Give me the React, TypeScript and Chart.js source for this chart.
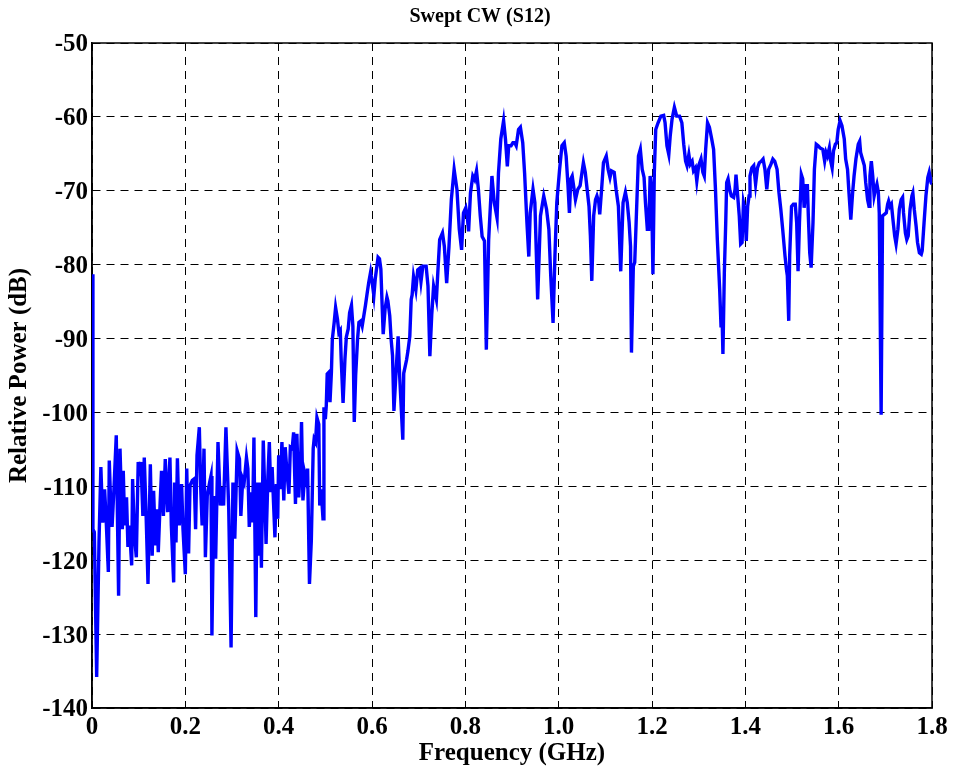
import React, { useEffect, useRef } from "react";
import { Chart, registerables } from "chart.js";

Chart.register(...registerables);

// ---- Data ----
const lowBandFreq = [
  0.000, 0.002, 0.005, 0.010, 0.015, 0.019, 0.023, 0.027, 0.030, 0.035, 0.037, 0.040, 0.043, 0.047, 0.052,
  0.057, 0.060, 0.065, 0.067, 0.070, 0.074, 0.077, 0.080, 0.085, 0.087, 0.091, 0.095, 0.099, 0.102, 0.105,
  0.109, 0.112, 0.116, 0.120, 0.125, 0.129, 0.132, 0.136, 0.139, 0.142, 0.146, 0.149, 0.153, 0.157, 0.162,
  0.167, 0.170, 0.175, 0.177, 0.180, 0.183, 0.187, 0.192, 0.195, 0.200, 0.203, 0.207, 0.210, 0.215, 0.219,
  0.222, 0.225, 0.230, 0.233, 0.236, 0.240, 0.243, 0.247, 0.252, 0.255, 0.257, 0.261, 0.265, 0.270, 0.275,
  0.279, 0.282, 0.287, 0.293, 0.298, 0.302, 0.306, 0.311, 0.316, 0.319, 0.323, 0.326,
];
const lowBandDb = [
  -81.3, -115.8, -116.2, -135.8, -117.6, -107.4, -114.9, -110.4, -114.0, -121.6, -106.5, -112.2, -115.5, -110.4, -103.1,
  -124.8, -104.9, -115.8, -107.9, -115.3, -111.5, -118.2, -115.3, -120.7, -109.0, -116.7, -119.6, -106.7, -108.6, -106.7,
  -114.0, -106.1, -114.0, -123.2, -107.0, -119.4, -110.6, -118.0, -113.1, -118.9, -112.2, -107.9, -114.0, -106.3, -113.5,
  -106.1, -115.3, -123.0, -109.5, -117.6, -106.2, -115.3, -109.7, -115.8, -121.9, -107.6, -119.1, -109.9, -109.2, -109.0,
  -115.8, -105.8, -102.0, -110.4, -115.3, -104.9, -119.6, -111.3, -109.5, -108.6, -130.2, -111.3, -119.8, -104.0, -112.6,
  -110.1, -112.6, -102.0, -113.1, -131.8, -109.5, -117.1, -105.2, -106.3, -114.0, -109.0, -109.5,
];

const midBandFreq = [
  0.331, 0.334, 0.337, 0.342, 0.344, 0.347, 0.351, 0.354, 0.357, 0.360, 0.363, 0.367, 0.370, 0.373, 0.377,
  0.380, 0.383, 0.386, 0.389, 0.392, 0.395, 0.398, 0.400, 0.403, 0.407, 0.411, 0.414, 0.418, 0.422, 0.425,
  0.429, 0.432, 0.436, 0.439, 0.443, 0.447, 0.449, 0.452, 0.456, 0.459, 0.462, 0.466, 0.470, 0.474, 0.476,
  0.479, 0.482, 0.486, 0.488, 0.491, 0.495, 0.497, 0.500, 0.502, 0.504, 0.507, 0.510, 0.513, 0.515, 0.519,
  0.522, 0.526, 0.529, 0.532, 0.534, 0.538, 0.542, 0.545, 0.549, 0.552, 0.556, 0.559, 0.562, 0.565, 0.569,
  0.572, 0.576, 0.579, 0.582, 0.586, 0.590, 0.593, 0.597, 0.600, 0.604, 0.607, 0.613, 0.616, 0.619, 0.622,
  0.624, 0.628, 0.632, 0.634, 0.638, 0.641, 0.644, 0.647, 0.651, 0.656, 0.659, 0.666, 0.668, 0.674, 0.677,
  0.681, 0.684, 0.686, 0.689, 0.694, 0.698, 0.702, 0.705, 0.709, 0.716, 0.720, 0.724, 0.728, 0.732, 0.738,
  0.741, 0.745, 0.751, 0.755, 0.760,
];
const midBandDb = [
  -106.1, -107.6, -115.5, -110.8, -114.9, -103.4, -127.7, -109.5, -119.4, -109.5, -121.0, -103.8, -110.4, -117.8, -108.6,
  -104.0, -110.8, -107.4, -112.2, -116.9, -109.7, -114.4, -105.8, -110.4, -104.0, -111.9, -104.7, -108.3, -111.0, -104.7,
  -104.9, -102.7, -112.4, -102.9, -111.5, -106.7, -101.3, -111.9, -108.3, -109.2, -107.6, -123.2, -117.3, -104.9, -103.6,
  -104.0, -100.7, -101.6, -112.6, -110.4, -114.4, -99.3, -100.9, -99.1, -94.8, -94.6, -98.6, -94.6, -90.1, -87.8,
  -85.8, -87.4, -89.2, -88.9, -92.8, -98.7, -92.8, -89.8, -88.7, -86.5, -85.5, -88.3, -101.3, -95.0, -90.1,
  -87.8, -87.6, -88.3, -87.1, -85.5, -83.7, -82.4, -81.0, -82.2, -84.2, -81.9, -79.0, -79.2, -80.6, -86.0,
  -89.4, -86.0, -84.4, -84.9, -86.9, -90.1, -92.3, -99.8, -95.1, -89.7, -94.7, -103.7, -94.7, -92.9, -91.7,
  -89.7, -84.7, -84.1, -81.6, -83.4, -80.7, -80.5, -82.3, -80.2, -80.2, -82.9, -92.4, -86.8, -82.9, -84.7,
  -81.1, -76.6, -75.7, -77.5, -82.5,
];

const highBandFreq = [
  0.765, 0.770, 0.776, 0.782, 0.787, 0.792, 0.796, 0.801, 0.804, 0.807, 0.811, 0.816, 0.820, 0.824, 0.828,
  0.832, 0.836, 0.841, 0.845, 0.850, 0.857, 0.862, 0.868, 0.871, 0.876, 0.882, 0.886, 0.890, 0.893, 0.898,
  0.902, 0.906, 0.909, 0.914, 0.918, 0.923, 0.927, 0.932, 0.936, 0.939, 0.945, 0.949, 0.955, 0.961, 0.968,
  0.974, 0.979, 0.983, 0.988, 0.992, 0.996, 1.002, 1.007, 1.012, 1.016, 1.020, 1.023, 1.026, 1.029, 1.033,
  1.036, 1.041, 1.046, 1.050, 1.053, 1.057, 1.061, 1.065, 1.068, 1.071, 1.075, 1.079, 1.082, 1.086, 1.088,
  1.092, 1.096, 1.102, 1.106, 1.110, 1.113, 1.119, 1.123, 1.128, 1.133, 1.138, 1.143, 1.147, 1.151, 1.154,
  1.156, 1.160, 1.163, 1.166, 1.171, 1.175, 1.179, 1.183, 1.186, 1.190, 1.193, 1.196, 1.199, 1.202, 1.205,
  1.208, 1.213, 1.219, 1.225, 1.228, 1.232, 1.236, 1.239, 1.243, 1.248, 1.253, 1.259, 1.264, 1.268, 1.272,
  1.275, 1.279, 1.282, 1.286, 1.289, 1.293, 1.296, 1.300, 1.305, 1.309, 1.312, 1.315, 1.319, 1.323, 1.328,
  1.332, 1.336, 1.340, 1.345, 1.348, 1.350, 1.352, 1.355, 1.358, 1.360, 1.363, 1.367, 1.370, 1.375, 1.378,
  1.380, 1.383, 1.387, 1.390, 1.393, 1.396, 1.399, 1.402, 1.405, 1.408, 1.410, 1.414, 1.418, 1.422, 1.426,
  1.430, 1.434, 1.438, 1.442, 1.446, 1.450, 1.455, 1.459, 1.463, 1.468, 1.472, 1.476, 1.480, 1.485, 1.488,
  1.490, 1.493, 1.495, 1.499, 1.503, 1.507, 1.510, 1.513, 1.516, 1.520, 1.523, 1.526, 1.530, 1.533, 1.535,
  1.538, 1.541, 1.545, 1.548, 1.552, 1.556, 1.560, 1.566, 1.570, 1.573, 1.576, 1.580, 1.583, 1.586, 1.589,
  1.593, 1.596, 1.599, 1.603, 1.607, 1.612, 1.615, 1.619, 1.622, 1.626, 1.630, 1.633, 1.637, 1.642, 1.645,
  1.647, 1.650, 1.655, 1.658, 1.662, 1.665, 1.667, 1.670, 1.673, 1.676, 1.679, 1.682, 1.685, 1.687, 1.691,
  1.694, 1.698, 1.702, 1.705, 1.707, 1.710, 1.713, 1.717, 1.720, 1.723, 1.727, 1.730, 1.734, 1.737, 1.739,
  1.743, 1.746, 1.749, 1.753, 1.757, 1.759, 1.762, 1.766, 1.769, 1.773, 1.777, 1.779, 1.783, 1.787, 1.791,
  1.794, 1.798, 1.800,
];
const highBandDb = [
  -77.5, -71.2, -67.1, -69.8, -75.2, -78.0, -73.0, -72.3, -73.4, -75.5, -70.3, -68.0, -68.5, -67.3, -69.8,
  -73.4, -76.2, -76.8, -91.5, -76.6, -68.0, -71.6, -73.7, -67.6, -63.0, -60.5, -63.0, -66.7, -63.9, -63.9,
  -63.5, -63.5, -63.9, -61.7, -61.4, -63.5, -67.6, -74.3, -78.9, -73.0, -69.8, -71.6, -84.7, -73.4, -70.7,
  -72.5, -75.2, -81.5, -87.9, -78.8, -71.6, -67.1, -63.9, -63.5, -65.3, -69.3, -73.0, -68.4, -68.0, -69.8,
  -71.2, -69.8, -69.3, -67.5, -66.2, -67.5, -69.8, -72.1, -76.1, -82.2, -73.4, -71.2, -70.7, -71.6, -73.2,
  -69.8, -66.2, -65.3, -67.1, -68.2, -67.3, -67.5, -69.8, -72.1, -80.9, -71.6, -70.2, -71.6, -74.3, -77.5,
  -91.9, -80.2, -79.7, -74.3, -65.3, -64.4, -67.1, -68.2, -71.6, -75.2, -75.2, -68.0, -69.8, -81.3, -67.5,
  -61.7, -60.8, -59.9, -59.8, -60.8, -63.9, -65.1, -62.6, -60.3, -58.7, -59.9, -59.9, -60.8, -63.7, -66.0,
  -66.6, -65.1, -66.4, -66.0, -67.3, -66.9, -68.7, -66.6, -65.7, -67.5, -68.0, -64.4, -60.8, -61.4, -63.0,
  -64.4, -69.8, -76.6, -83.3, -88.5, -86.5, -92.1, -81.1, -74.3, -68.9, -68.4, -70.0, -70.7, -70.9, -69.8,
  -67.8, -70.2, -73.4, -77.2, -77.0, -71.6, -72.5, -76.8, -72.1, -70.7, -68.0, -66.9, -66.6, -69.1, -66.9,
  -66.2, -66.0, -65.7, -67.1, -69.8, -67.1, -66.4, -65.7, -66.0, -67.1, -70.2, -72.5, -75.2, -78.8, -80.6,
  -81.5, -87.6, -78.8, -72.1, -71.8, -71.8, -74.3, -80.9, -74.3, -67.8, -68.4, -72.3, -69.3, -69.3, -73.4,
  -78.4, -80.4, -74.3, -67.1, -63.7, -63.9, -64.2, -64.4, -66.0, -64.8, -65.3, -64.2, -66.0, -66.9, -64.6,
  -63.7, -63.5, -61.7, -60.5, -61.2, -63.0, -65.7, -67.1, -70.2, -73.9, -70.2, -68.0, -65.7, -63.7, -63.3,
  -64.8, -65.5, -66.6, -68.9, -71.2, -72.1, -68.0, -66.0, -68.0, -70.7, -69.8, -69.1, -70.2, -73.0, -100.3,
  -73.4, -73.2, -73.0, -71.8, -71.4, -72.1, -71.8, -74.3, -76.1, -77.2, -75.2, -72.5, -71.2, -70.9, -73.0,
  -75.7, -76.6, -76.1, -72.5, -70.7, -70.3, -72.5, -74.8, -77.0, -78.4, -78.6, -78.1, -74.3, -70.7, -68.2,
  -67.5, -68.9, -69.1,
];

const xRange = [0, 1.8];
const xStep = 0.2;
const yRange = [-140, -50];
const yStep = 10;

const chartTitle = "Swept CW (S12)";
const xAxisTitle = "Frequency (GHz)";
const yAxisTitle = "Relative Power (dB)";

const FONT = "'Liberation Serif', 'Times New Roman', Times, serif";

export default function App() {
  const canvasRef = useRef<HTMLCanvasElement | null>(null);

  useEffect(() => {
    if (!canvasRef.current) return;
    const freq = [...lowBandFreq, ...midBandFreq, ...highBandFreq];
    const power = [...lowBandDb, ...midBandDb, ...highBandDb];
    const points = freq.map((x, i) => ({ x, y: power[i] }));

    const framePlugin = {
      id: "frameBox",
      beforeDatasetsDraw(chart: any) {
        const { ctx, chartArea } = chart;
        const { left, top, right, bottom } = chartArea;
        ctx.save();
        ctx.strokeStyle = "#000";
        ctx.lineWidth = 1.5;
        ctx.setLineDash([]);
        ctx.strokeRect(left, top, right - left, bottom - top);
        ctx.restore();
      },
    };

    const tickFont = { family: FONT, size: 25, weight: "bold" as const, lineHeight: 1.2 };
    const axisTitleFont = { family: FONT, size: 25, weight: "bold" as const, lineHeight: 1.2 };

    const chart = new Chart(canvasRef.current, {
      type: "line",
      data: {
        datasets: [
          {
            data: points,
            borderColor: "#0000ff",
            borderWidth: 3.4,
            pointRadius: 0,
            pointHoverRadius: 0,
            tension: 0,
            fill: false,
          },
        ],
      },
      options: {
        animation: false,
        responsive: true,
        maintainAspectRatio: false,
        layout: { padding: { left: 28, right: 21, top: 0, bottom: 0 } },
        plugins: {
          legend: { display: false },
          tooltip: { enabled: false },
          title: {
            display: true,
            text: chartTitle,
            color: "#000",
            font: { family: FONT, size: 20, weight: "bold", lineHeight: 1.2 },
            padding: { top: 5, bottom: 14 },
          },
        },
        scales: {
          x: {
            type: "linear",
            min: xRange[0],
            max: xRange[1],
            afterFit: (s: any) => {
              s.height = 66;
            },
            ticks: {
              stepSize: xStep,
              color: "#000",
              font: tickFont,
              padding: 5,
              maxRotation: 0,
              autoSkip: false,
            },
            grid: { color: "#000", lineWidth: 1, drawTicks: false },
            border: { display: true, color: "#000", width: 1.5, dash: [8, 6] },
            title: {
              display: true,
              text: xAxisTitle,
              color: "#000",
              font: axisTitleFont,
              padding: { top: 0, bottom: 5 },
            },
          },
          y: {
            type: "linear",
            min: yRange[0],
            max: yRange[1],
            afterFit: (s: any) => {
              s.width = 64;
            },
            ticks: {
              stepSize: yStep,
              color: "#000",
              font: tickFont,
              padding: 4,
              labelOffset: 2,
              autoSkip: false,
            },
            grid: { color: "#000", lineWidth: 1, drawTicks: false },
            border: { display: true, color: "#000", width: 1.5, dash: [8, 6] },
            title: {
              display: true,
              text: yAxisTitle,
              color: "#000",
              font: axisTitleFont,
              padding: { top: -23, bottom: 0 },
            },
          },
        },
      },
      plugins: [framePlugin],
    });

    return () => chart.destroy();
  }, []);

  return (
    <div
      style={{
        position: "fixed",
        left: 0,
        top: 0,
        width: 953,
        height: 774,
        background: "#fff",
      }}
    >
      <canvas ref={canvasRef} />
    </div>
  );
}
